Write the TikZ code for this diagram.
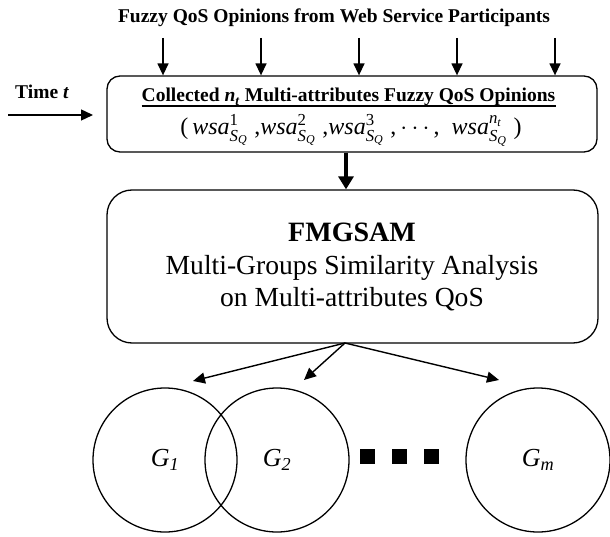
\documentclass[tikz,border=0pt]{standalone}
\usepackage{fontspec}
\usepackage{amsmath}
\setmainfont{Liberation Serif}
\usetikzlibrary{arrows.meta}
\newcommand{\wsaterm}[1]{$\textit{wsa}^{#1}_{\textit{S}_{\textit{Q}}}$}
\begin{document}
\begin{tikzpicture}[x=1pt,y=-1pt,
  arr/.style={-{Triangle[length=12pt,width=11pt]}, line width=1.4pt},
  thickarr/.style={-{Triangle[length=13pt,width=15pt]}, line width=4pt},
  rbox/.style={draw, line width=1.3pt, rounded corners=#1, inner sep=0pt},
  grp/.style={draw, circle, line width=1.3pt, minimum size=144pt, inner sep=0pt, font=\fontsize{26}{30}\selectfont\itshape},
  sq/.style={fill=black, minimum size=15pt, inner sep=0pt},
  txt/.style={inner sep=0pt, anchor=base},
  boldtxt/.style={txt, font=\fontsize{19.5}{22}\selectfont\bfseries},
]
\useasboundingbox (0,0) rectangle (610,537);
% title
\node[boldtxt] (title) at (334,23) {Fuzzy QoS Opinions from Web Service Participants};
% box 1
\node[rbox=13pt, minimum width=490pt, minimum height=76pt] (b1) at (352,114) {};
\node[boldtxt] (c1) at (348.5,102) {Collected \textit{n}$_{\textbf{\textit{t}}}$ Multi-attributes Fuzzy QoS Opinions};
\draw[line width=1.1pt] ([yshift=-4pt]c1.base west) -- ([yshift=-4pt]c1.base east);
\node[txt, font=\fontsize{24}{28}\selectfont] (f) at (351,135)
 {(\,\wsaterm{\text{1}}\;,\wsaterm{\text{2}}\;,\wsaterm{\text{3}}\;,\,$\cdots$,\ \ \wsaterm{\textit{n}_{\textit{t}}}\;)};
% input arrows
\foreach \i/\x in {1/163,2/261,3/359,4/457,5/555}{
  \coordinate (s\i) at (\x,38);
  \draw[arr] (s\i) -- (s\i |- b1.north);
}
% time
\node[boldtxt, anchor=base west] (time) at (15,99) {Time \textit{t}};
\coordinate (ts) at (8,115);
\coordinate (te) at (93,115);
\draw[arr] (ts) -- (te);
% box 2
\node[rbox=25pt, minimum width=491pt, minimum height=153pt] (b2) at (352.5,266.5) {};
\node[txt, font=\fontsize{28}{32}\selectfont\bfseries] (fm) at (352,242) {FMGSAM};
\node[txt, font=\fontsize{27.6}{32}\selectfont] (l2) at (352,274) {Multi-Groups Similarity Analysis};
\node[txt, font=\fontsize{27.6}{32}\selectfont] (l3) at (352,306) {on Multi-attributes QoS};
\coordinate (m) at (346,0);
\draw[thickarr] (b1.south -| m) -- (b2.north -| m);
% groups
\node[grp] (g1) at (165,460) {G$_{\textit{1}}$};
\node[grp] (g2) at (277,460) {G$_{\textit{2}}$};
\node[grp] (gm) at (538,460) {G$_{\textit{m}}$};
\coordinate (bs) at (345,343);
\coordinate (e1) at (193,381);
\coordinate (e2) at (304,380);
\coordinate (e3) at (499,380);
\draw[arr] (bs) -- (e1);
\draw[arr] (bs) -- (e2);
\draw[arr] (bs) -- (e3);
\node[sq] (q1) at (367,456.5) {};
\node[sq] (q2) at (399,456.5) {};
\node[sq] (q3) at (431,456.5) {};
\end{tikzpicture}
\end{document}
